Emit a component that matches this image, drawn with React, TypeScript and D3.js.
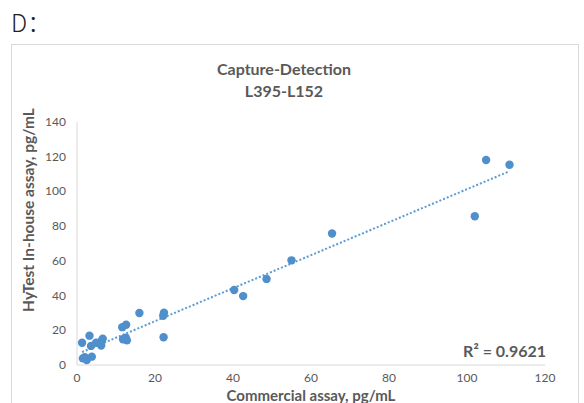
import { useEffect, useRef } from 'react';
import * as d3 from 'd3';

// Commercial assay (x) vs HyTest in-house assay (y), pg/mL
const commercial = [
  1.3, 1.5, 2.0, 2.5, 3.2, 3.8, 3.6, 4.9, 5.9, 6.2, 6.6, 6.3,
  11.6, 12.6, 11.8, 12.8, 12.5, 16.0, 22.3, 22.1, 22.2,
  40.3, 42.6, 48.6, 55.0, 65.4, 102.0, 104.9, 110.9,
];
const inHouse = [
  12.8, 3.8, 4.5, 2.8, 16.9, 4.8, 11.0, 12.8, 12.5, 11.2, 15.2, 13.8,
  21.8, 23.2, 14.8, 14.2, 15.8, 30.0, 30.1, 28.4, 16.0,
  43.2, 39.7, 49.6, 60.3, 75.8, 85.7, 118.1, 115.4,
];
const xTicks = [0, 20, 40, 60, 80, 100, 120];
const yTicks = [0, 20, 40, 60, 80, 100, 120, 140];
const titleLines = ['Capture-Detection', 'L395-L152'];
const rSquaredLabel = 'R² = 0.9621';

export default function App() {
  const svgRef = useRef<SVGSVGElement>(null);

  useEffect(() => {
    const svg = d3.select(svgRef.current);
    svg.selectAll('*').remove();

    const gray = '#595959';
    const axisGray = '#d9d9d9';
    const dotBlue = '#5b9bd5';
    const font = 'Lato, "Open Sans", sans-serif';

    const x = d3.scaleLinear().domain([0, 120]).range([77, 545]);
    const y = d3.scaleLinear().domain([0, 140]).range([365, 122]);

    // Panel label
    svg.append('text')
      .attr('x', 11)
      .attr('y', 32)
      .attr('font-family', '"Noto Sans CJK SC", "Noto Sans", sans-serif')
      .attr('font-size', 24)
      .attr('font-weight', 300)
      .attr('fill', '#222')
      .text('D：');

    // Chart frame
    svg.append('rect')
      .attr('x', 11.5)
      .attr('y', 44.5)
      .attr('width', 567)
      .attr('height', 380)
      .attr('fill', 'white')
      .attr('stroke', axisGray)
      .attr('stroke-width', 1);

    // Title
    svg.append('g')
      .selectAll('text')
      .data(titleLines)
      .join('text')
      .attr('x', 284)
      .attr('y', (d, i) => 75 + i * 22)
      .attr('text-anchor', 'middle')
      .attr('font-family', font)
      .attr('font-size', 16)
      .attr('font-weight', 700)
      .attr('fill', gray)
      .text(d => d);

    // Axis lines
    svg.append('line')
      .attr('x1', x(0)).attr('x2', x(0))
      .attr('y1', y(140)).attr('y2', y(0))
      .attr('stroke', axisGray);
    svg.append('line')
      .attr('x1', x(0)).attr('x2', x(120))
      .attr('y1', y(0)).attr('y2', y(0))
      .attr('stroke', axisGray);

    // Tick labels
    svg.append('g')
      .selectAll('text')
      .data(yTicks)
      .join('text')
      .attr('x', 66)
      .attr('y', d => y(d) + 4)
      .attr('text-anchor', 'end')
      .attr('font-family', font)
      .attr('font-size', 12)
      .attr('fill', gray)
      .text(d => d);

    svg.append('g')
      .selectAll('text')
      .data(xTicks)
      .join('text')
      .attr('x', d => x(d))
      .attr('y', 382)
      .attr('text-anchor', 'middle')
      .attr('font-family', font)
      .attr('font-size', 12)
      .attr('fill', gray)
      .text(d => d);

    // Axis titles
    svg.append('text')
      .attr('x', 311)
      .attr('y', 401)
      .attr('text-anchor', 'middle')
      .attr('font-family', font)
      .attr('font-size', 15)
      .attr('font-weight', 700)
      .attr('fill', gray)
      .text('Commercial assay, pg/mL');

    svg.append('text')
      .attr('transform', 'translate(34,210) rotate(-90)')
      .attr('text-anchor', 'middle')
      .attr('font-family', font)
      .attr('font-size', 15.5)
      .attr('font-weight', 700)
      .attr('fill', gray)
      .text('HyTest In-house assay, pg/mL');

    // Linear trendline (least squares)
    const pts = commercial.map((c, i) => [c, inHouse[i]] as [number, number]);
    const mx = d3.mean(commercial) as number;
    const my = d3.mean(inHouse) as number;
    const sxy = d3.sum(pts, p => (p[0] - mx) * (p[1] - my));
    const sxx = d3.sum(pts, p => (p[0] - mx) ** 2);
    const slope = sxy / sxx;
    const intercept = my - slope * mx;
    const [x0, x1] = d3.extent(commercial) as [number, number];

    svg.append('line')
      .attr('x1', x(x0)).attr('y1', y(slope * x0 + intercept))
      .attr('x2', x(x1)).attr('y2', y(slope * x1 + intercept))
      .attr('stroke', dotBlue)
      .attr('stroke-width', 2)
      .attr('stroke-dasharray', '2,2');

    // Points
    svg.append('g')
      .selectAll('circle')
      .data(pts)
      .join('circle')
      .attr('cx', d => x(d[0]))
      .attr('cy', d => y(d[1]))
      .attr('r', 4.2)
      .attr('fill', '#4f8fcc');

    // R² label
    svg.append('text')
      .attr('x', 546)
      .attr('y', 357)
      .attr('text-anchor', 'end')
      .attr('font-family', font)
      .attr('font-size', 16)
      .attr('font-weight', 700)
      .attr('fill', gray)
      .text(rSquaredLabel);
  }, []);

  return (
    <svg
      ref={svgRef}
      width={584}
      height={403}
      style={{ position: 'absolute', left: 0, top: 0, background: 'white' }}
    />
  );
}
